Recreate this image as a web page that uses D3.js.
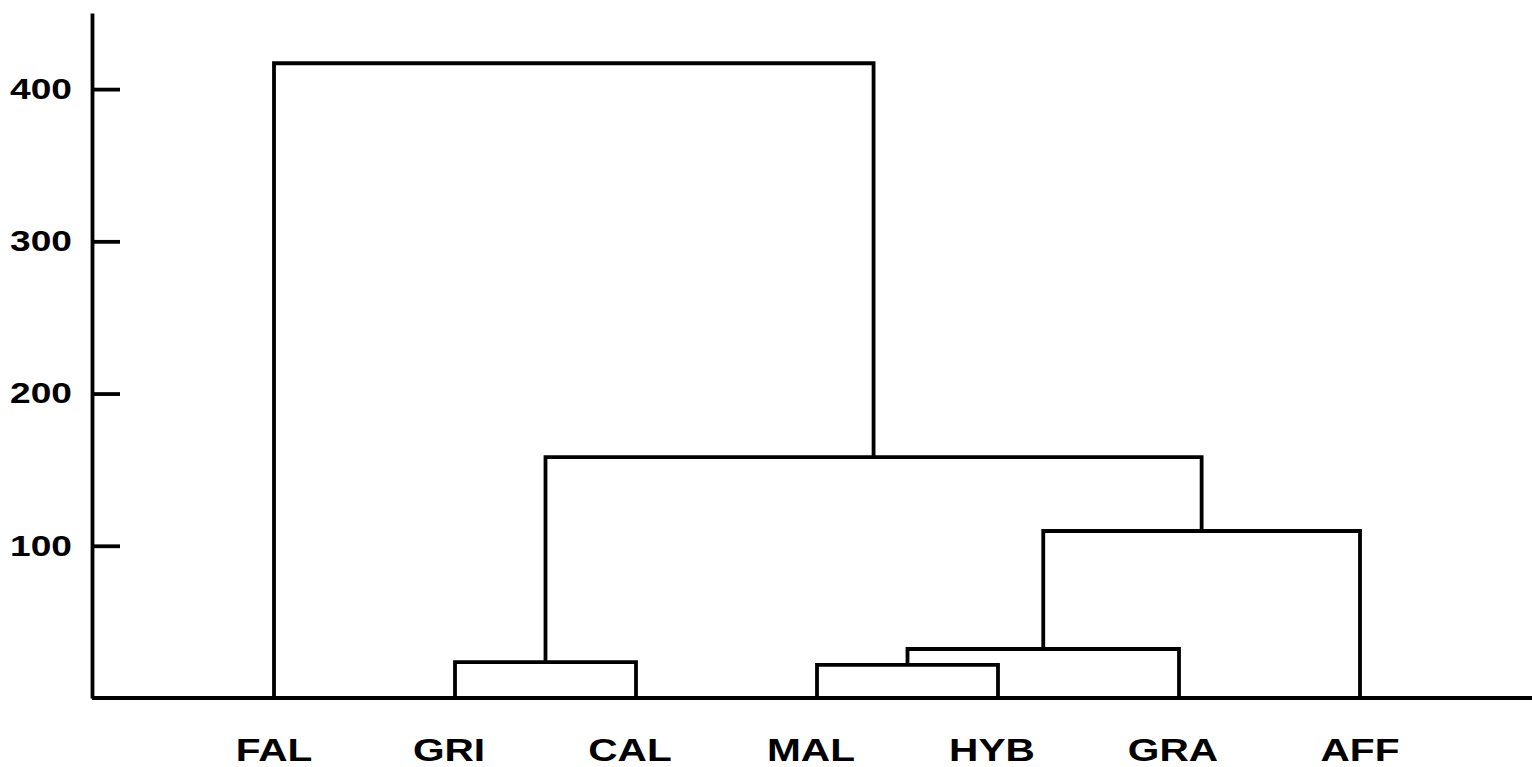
<!DOCTYPE html>
<html>
<head>
<meta charset="utf-8">
<script src="https://cdn.jsdelivr.net/npm/d3@7"></script>
<style>
  html, body { margin: 0; padding: 0; background: #fff; }
  svg { display: block; }
</style>
</head>
<body>
<svg id="chart" width="1532" height="767"></svg>
<script>
// ---- data ----
const categories = ["FAL", "GRI", "CAL", "MAL", "HYB", "GRA", "AFF"];
const clusterIds = ["C1", "C2", "C3", "C4", "C5", "C6"];
const clusterLeft = ["GRI", "MAL", "C2", "C3", "C1", "FAL"];
const clusterRight = ["CAL", "HYB", "GRA", "AFF", "C4", "C5"];
const clusterHeight = [23.6, 21.7, 32.2, 109.7, 158.3, 417];
const yTicks = [100, 200, 300, 400];

// ---- layout ----
const svg = d3.select("#chart");
const axisX = 92;
const x = d3.scalePoint().domain(categories).range([274, 1360]);
const y = d3.scaleLinear().domain([0, 450]).range([698, 13]);

const stroke = "#000";
const sw = 3.8;
const fontFamily = "'Liberation Sans', Arial, Helvetica, sans-serif";

// node positions
const pos = {};
categories.forEach(c => { pos[c] = { x: x(c), h: 0 }; });
clusterIds.forEach((id, i) => {
  const l = pos[clusterLeft[i]], r = pos[clusterRight[i]];
  pos[id] = { x: (l.x + r.x) / 2, h: clusterHeight[i] };
});

// y axis
const yAxis = d3.axisLeft(y)
  .tickValues(yTicks)
  .tickSizeInner(-28)
  .tickSizeOuter(0)
  .tickPadding(20)
  .tickFormat(d3.format("d"));

const gy = svg.append("g")
  .attr("transform", `translate(${axisX},0)`)
  .call(yAxis);
gy.select(".domain").attr("stroke", stroke).attr("stroke-width", sw);
gy.selectAll(".tick line").attr("stroke", stroke).attr("stroke-width", sw);
gy.selectAll(".tick text")
  .attr("fill", "#000")
  .attr("x", 0)
  .attr("transform", "translate(-20,0) scale(1.28,1)")
  .style("font-family", fontFamily)
  .style("font-weight", "bold")
  .style("font-size", "29px");

// baseline
svg.append("line")
  .attr("x1", axisX).attr("x2", 1532)
  .attr("y1", y(0)).attr("y2", y(0))
  .attr("stroke", stroke).attr("stroke-width", sw);

// dendrogram links
const line = d3.line();
svg.append("g").selectAll("path")
  .data(clusterIds)
  .join("path")
  .attr("d", (id, i) => {
    const l = pos[clusterLeft[i]], r = pos[clusterRight[i]], n = pos[id];
    return line([
      [l.x, y(l.h)], [l.x, y(n.h)], [r.x, y(n.h)], [r.x, y(r.h)]
    ]);
  })
  .attr("fill", "none")
  .attr("stroke", stroke)
  .attr("stroke-width", sw)
  .attr("stroke-linejoin", "miter");

// leaf labels
svg.append("g").selectAll("text")
  .data(categories)
  .join("text")
  .attr("transform", d => {
    const dx = (d === "FAL" || d === "AFF") ? 0 : -6;
    return `translate(${x(d) + dx},761) scale(1.27,1)`;
  })
  .attr("text-anchor", "middle")
  .attr("fill", "#000")
  .style("font-family", fontFamily)
  .style("font-weight", "bold")
  .style("font-size", "32px")
  .text(d => d);
</script>
</body>
</html>
